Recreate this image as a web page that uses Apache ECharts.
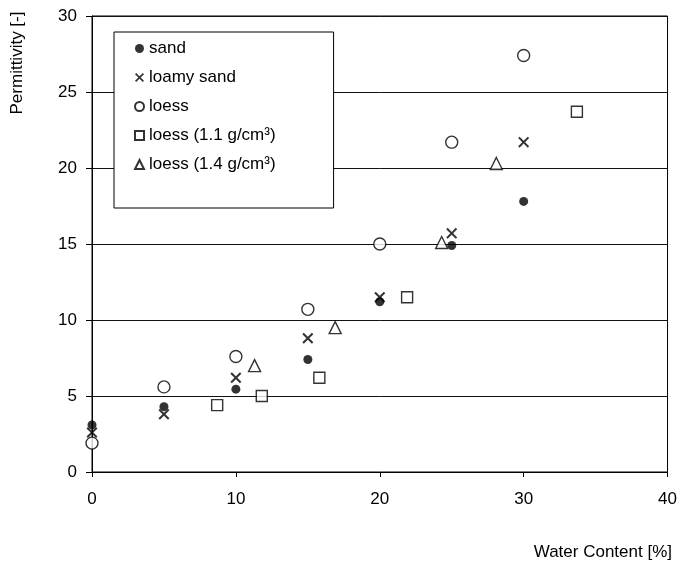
<!DOCTYPE html>
<html>
<head>
<meta charset="utf-8">
<script src="https://cdn.jsdelivr.net/npm/echarts@6/dist/echarts.min.js"></script>
<style>
  html, body { margin: 0; padding: 0; background: #fff; }
  #chart { width: 680px; height: 570px; }
</style>
</head>
<body>
<div id="chart"></div>
<script>
// Permittivity vs. water content for several soils
const sand       = [[0, 3.1], [5, 4.3], [10, 5.45], [15, 7.4], [20, 11.2], [25, 14.9], [30, 17.8]];
const loamySand  = [[0, 2.6], [5, 3.8], [10, 6.2], [15, 8.8], [20, 11.5], [25, 15.7], [30, 21.7]];
const loess      = [[0, 1.9], [5, 5.6], [10, 7.6], [15, 10.7], [20, 15.0], [25, 21.7], [30, 27.4]];
const loess11    = [[8.7, 4.4], [11.8, 5.0], [15.8, 6.2], [21.9, 11.5], [33.7, 23.7]];
const loess14    = [[11.3, 7.0], [16.9, 9.5], [24.3, 15.1], [28.1, 20.3]];

const seriesNames = ['sand', 'loamy sand', 'loess', 'loess (1.1 g/cm³)', 'loess (1.4 g/cm³)'];
const xTicks = { min: 0, max: 40, interval: 10 };
const yTicks = { min: 0, max: 30, interval: 5 };

const FONT = 'Liberation Sans, Arial, sans-serif';
const FS = 17;
// filled "x" outline so it renders as a solid cross
const crossPath = 'path://M0,1.3L1.3,0L5,3.7L8.7,0L10,1.3L6.3,5L10,8.7L8.7,10L5,6.3L1.3,10L0,8.7L3.7,5Z';

const hollow = { color: '#fff', borderColor: '#000', borderWidth: 1.4 };
const solid = { color: '#000' };

const chart = echarts.init(document.getElementById('chart'), null, { renderer: 'canvas' });

chart.setOption({
  backgroundColor: '#fff',
  animation: false,
  grid: {
    left: 92, right: 10, top: 16, bottom: 98,
    show: true, borderColor: '#000', borderWidth: 1, backgroundColor: 'transparent'
  },
  xAxis: {
    type: 'value', min: xTicks.min, max: xTicks.max, interval: xTicks.interval,
    axisLine: { show: true, lineStyle: { color: '#000', width: 1 } },
    axisTick: { show: true, inside: false, length: 5, lineStyle: { color: '#000' } },
    axisLabel: { color: '#000', fontSize: FS, fontFamily: FONT, margin: 19 },
    splitLine: { show: false }
  },
  yAxis: {
    type: 'value', min: yTicks.min, max: yTicks.max, interval: yTicks.interval,
    axisLine: { show: true, lineStyle: { color: '#000', width: 1 } },
    axisTick: { show: true, inside: false, length: 6, lineStyle: { color: '#000' } },
    axisLabel: { color: '#000', fontSize: FS, fontFamily: FONT, margin: 15 },
    splitLine: { show: true, lineStyle: { color: '#111', width: 1 } }
  },
  legend: {
    orient: 'vertical', left: 114, top: 32,
    backgroundColor: '#fff', borderColor: '#000', borderWidth: 1,
    padding: [8, 58, 35, 20],
    itemWidth: 9, itemHeight: 9, itemGap: 12,
    textStyle: { color: '#000', fontSize: FS, fontFamily: FONT },
    data: seriesNames
  },
  graphic: [
    {
      type: 'text', x: 17, y: 63, rotation: Math.PI / 2,
      style: { text: 'Permittivity [-]', font: FS + 'px ' + FONT, fill: '#000', align: 'center', verticalAlign: 'middle' }
    },
    {
      type: 'text', x: 672, y: 552,
      style: { text: 'Water Content [%]', font: FS + 'px ' + FONT, fill: '#000', align: 'right', verticalAlign: 'middle' }
    }
  ],
  series: [
    { name: seriesNames[2], type: 'scatter', data: loess, symbol: 'circle', symbolSize: 12, itemStyle: hollow },
    { name: seriesNames[3], type: 'scatter', data: loess11, symbol: 'rect', symbolSize: 11, itemStyle: hollow },
    { name: seriesNames[4], type: 'scatter', data: loess14, symbol: 'triangle', symbolSize: 12, itemStyle: hollow },
    { name: seriesNames[1], type: 'scatter', data: loamySand, symbol: crossPath, symbolSize: 11, itemStyle: solid },
    { name: seriesNames[0], type: 'scatter', data: sand, symbol: 'circle', symbolSize: 9, itemStyle: solid }
  ]
});
</script>
</body>
</html>
